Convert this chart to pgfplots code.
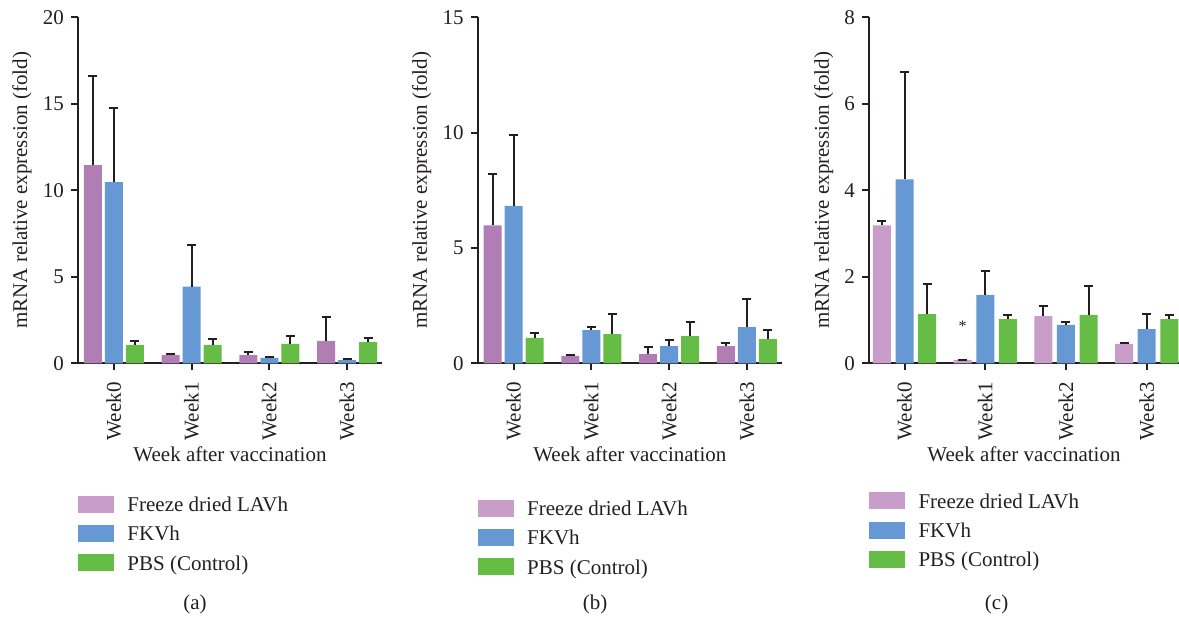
\documentclass[border=0pt]{standalone}
\usepackage{fontspec}
\setmainfont{Liberation Serif}
\usepackage{pgfplots}
\usepackage{pgfplotstable}
\pgfplotsset{compat=1.18}
\definecolor{dpurple}{HTML}{B07EB5}
\definecolor{lpurple}{HTML}{C99DC9}
\definecolor{mblue}{HTML}{6699D3}
\definecolor{mgreen}{HTML}{66BD45}
\definecolor{txt}{HTML}{231F20}

% x: week index; p/b/g: bar heights; pe/be/ge: upper error
\pgfplotstableread{
x p pe b be g ge
0 11.46 5.14 10.48 4.28 1.06 0.25
1 0.48 0.04 4.43 2.43 1.06 0.36
2 0.48 0.19 0.31 0.07 1.12 0.48
3 1.29 1.41 0.19 0.08 1.23 0.25
}\tabA
\pgfplotstableread{
x p pe b be g ge
0 5.98 2.21 6.82 3.08 1.10 0.23
1 0.32 0.05 1.44 0.15 1.27 0.85
2 0.40 0.32 0.75 0.27 1.18 0.61
3 0.75 0.14 1.57 1.22 1.05 0.39
}\tabB
\pgfplotstableread{
x p pe b be g ge
0 3.19 0.11 4.25 2.49 1.14 0.70
1 0.077 0.01 1.58 0.56 1.02 0.09
2 1.09 0.24 0.89 0.07 1.12 0.66
3 0.45 0.02 0.79 0.34 1.02 0.09
}\tabC

\pgfplotsset{
  panel/.style={
    scale only axis, height=173pt, ymin=0,
    axis lines=left,
    axis line style={-, line width=1pt, txt},
    every tick/.style={line width=1pt, txt},
    tick align=outside, major tick length=3.5pt,
    xtick={0,1,2,3}, xticklabels={Week0,Week1,Week2,Week3},
    xticklabel style={rotate=90, anchor=east},
    xticklabel shift=2.5pt,
    ybar, bar width=9pt,
    font=\fontsize{10.5}{12}\selectfont,
    tick label style={font=\fontsize{10.5}{12}\selectfont, text=txt},
    label style={font=\fontsize{10.5}{12}\selectfont, text=txt},
    /pgf/number format/assume math mode=true,
    xlabel={Week after vaccination},
    ylabel={mRNA relative expression (fold)},
    xlabel style={at={(axis description cs:0.5,0)}, anchor=base, yshift=-49pt},
    legend style={at={(axis description cs:0,-0.3835)}, anchor=north west,
      draw=none, fill=none, inner sep=0pt, outer sep=0pt,
      row sep=4.2pt,
      nodes={inner sep=0pt, text height=7.5pt, text depth=2.5pt, text=txt},
      cells={anchor=base west},
      /tikz/every odd column/.append style={column sep=6.85pt},
      font=\fontsize{10.5}{12}\selectfont},
  },
  eb/.style={error bars/.cd, y dir=plus, y explicit,
    error bar style={line width=1pt, txt},
    error mark options={rotate=90, mark size=2.25pt, line width=1pt, txt}},
  legP/.style={legend image code/.code={\fill[lpurple] (0pt,-0.3pt) rectangle (17.5pt,7.7pt);}},
  legB/.style={legend image code/.code={\fill[mblue] (0pt,-0.3pt) rectangle (17.5pt,7.7pt);}},
  legG/.style={legend image code/.code={\fill[mgreen] (0pt,-0.3pt) rectangle (17.5pt,7.7pt);}},
}

\begin{document}
\color{txt}
\begin{tikzpicture}
\path[use as bounding box] (0,0) rectangle (589.5pt,309pt);

% (a)
\begin{axis}[panel, at={(39pt,127.35pt)}, anchor=south west,
  width=152pt, xmin=-0.46, xmax=3.45, ymax=20, ytick={0,5,10,15,20},
  ylabel style={at={(axis description cs:-0.184,0.5)}, anchor=center}]
\addlegendimage{legP}\addlegendentry{Freeze dried LAVh}
\addlegendimage{legB}\addlegendentry{FKVh}
\addlegendimage{legG}\addlegendentry{PBS (Control)}
\addplot[fill=dpurple, draw=none, forget plot, bar shift=-10.5pt, eb] table[x=x, y=p, y error=pe] {\tabA};
\addplot[fill=mblue, draw=none, forget plot, bar shift=0pt, eb] table[x=x, y=b, y error=be] {\tabA};
\addplot[fill=mgreen, draw=none, forget plot, bar shift=10.5pt, eb] table[x=x, y=g, y error=ge] {\tabA};
\end{axis}

% (b)
\begin{axis}[panel, at={(238.85pt,127.35pt)}, anchor=south west,
  width=152.15pt, xmin=-0.46, xmax=3.45, ymax=15, ytick={0,5,10,15},
  ylabel style={at={(axis description cs:-0.184,0.5)}, anchor=center},
  legend style={at={(axis description cs:0,-0.395)}}]
\addlegendimage{legP}\addlegendentry{Freeze dried LAVh}
\addlegendimage{legB}\addlegendentry{FKVh}
\addlegendimage{legG}\addlegendentry{PBS (Control)}
\addplot[fill=dpurple, draw=none, forget plot, bar shift=-10.5pt, eb] table[x=x, y=p, y error=pe] {\tabB};
\addplot[fill=mblue, draw=none, forget plot, bar shift=0pt, eb] table[x=x, y=b, y error=be] {\tabB};
\addplot[fill=mgreen, draw=none, forget plot, bar shift=10.5pt, eb] table[x=x, y=g, y error=ge] {\tabB};
\end{axis}

% (c)
\begin{axis}[panel, at={(434.5pt,127.35pt)}, anchor=south west,
  width=155pt, xmin=-0.44, xmax=3.40, ymax=8, ytick={0,2,4,6,8},
  ylabel style={at={(axis description cs:-0.146,0.5)}, anchor=center},
  legend style={at={(axis description cs:0,-0.373)}}]
\addlegendimage{legP}\addlegendentry{Freeze dried LAVh}
\addlegendimage{legB}\addlegendentry{FKVh}
\addlegendimage{legG}\addlegendentry{PBS (Control)}
\addplot[fill=lpurple, draw=none, forget plot, bar shift=-11.3pt, eb] table[x=x, y=p, y error=pe] {\tabC};
\addplot[fill=mblue, draw=none, forget plot, bar shift=0pt, eb] table[x=x, y=b, y error=be] {\tabC};
\addplot[fill=mgreen, draw=none, forget plot, bar shift=11.3pt, eb] table[x=x, y=g, y error=ge] {\tabC};
\node[font=\fontsize{8}{9}\selectfont, text=txt] at (axis cs:0.72,0.85) {*};
\end{axis}

\node[font=\fontsize{10.5}{12}\selectfont, text=txt] at (97.5pt,7pt) {(a)};
\node[font=\fontsize{10.5}{12}\selectfont, text=txt] at (297.5pt,7pt) {(b)};
\node[font=\fontsize{10.5}{12}\selectfont, text=txt] at (498.3pt,7pt) {(c)};
\end{tikzpicture}
\end{document}
